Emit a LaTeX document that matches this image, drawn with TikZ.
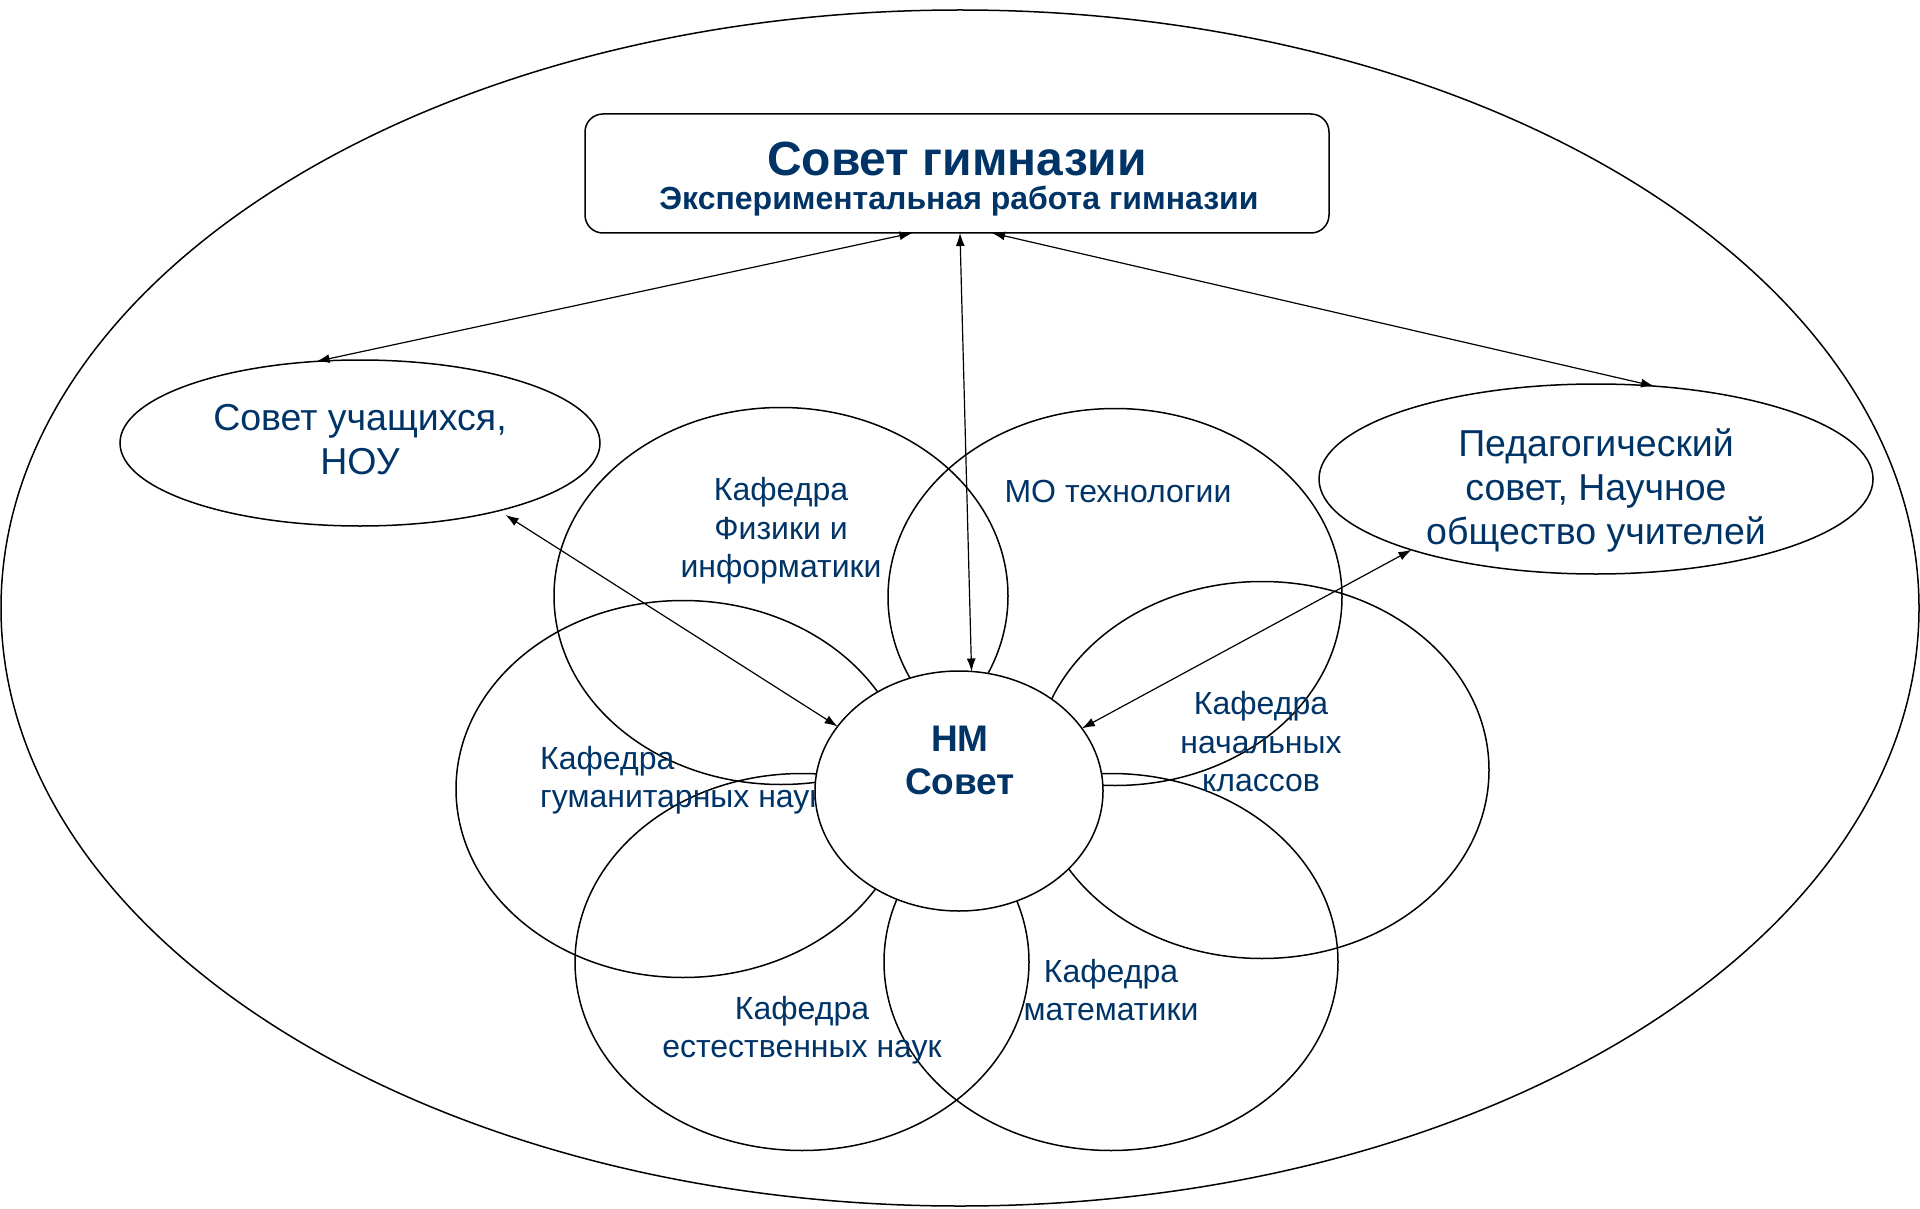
\documentclass[tikz,border=0pt]{standalone}
\usepackage{fontspec}
\setmainfont{Liberation Sans}
\usetikzlibrary{arrows.meta,calc,shapes.geometric}
\definecolor{navy}{RGB}{0,51,102}
\begin{document}
\begin{tikzpicture}[x=1pt,y=-1pt,
  line/.style={draw=black,line width=1.5pt},
  oval/.style={line,ellipse,inner sep=0pt,outer sep=0pt},
  petal/.style={oval,minimum width=454pt,minimum height=377pt},
  lbl/.style={text=navy,align=center,inner sep=0pt,font=\fontsize{32}{38.5}\selectfont},
  biglbl/.style={text=navy,align=center,inner sep=0pt,font=\fontsize{37.5}{44}\selectfont},
  link/.style={line width=1.2pt,{Latex[length=13pt,width=9pt]}-{Latex[length=13pt,width=9pt]}}
]
\useasboundingbox (0,0) rectangle (1920,1209);
% outer ellipse
\node[oval,minimum width=1918pt,minimum height=1196pt] (outer) at (960,608) {};
% top box
\node[line,rectangle,rounded corners=18pt,minimum width=744pt,minimum height=119pt,inner sep=0pt,outer sep=0pt] (top) at (957,173.5) {};
\node[text=navy,anchor=base,inner sep=0pt,font=\fontsize{48}{58}\selectfont\bfseries] (title) at (957,176) {Совет гимназии};
\node[text=navy,anchor=base,inner sep=0pt,font=\fontsize{32}{38}\selectfont\bfseries] (sub) at (959,209.5) {Экспериментальная работа гимназии};
% side ellipses
\node[oval,minimum width=480pt,minimum height=166pt] (sl) at (360,443) {};
\node[biglbl] (slt) at (360,440) {Совет учащихся,\\НОУ};
\node[oval,minimum width=554pt,minimum height=190pt] (pr) at (1596,479) {};
\node[biglbl] (prt) at (1596,490) {Педагогический\\совет, Научное\\общество учителей};
% petals
\node[petal] (p1) at (781,596) {};
\node[petal] (p2) at (1115,597) {};
\node[petal] (p3) at (1262,770) {};
\node[petal] (p4) at (1111,962) {};
\node[petal] (p5) at (802,962) {};
\node[petal] (p6) at (683,789) {};
% petal texts
\node[lbl] (t1) at (781,531) {Кафедра\\Физики и\\информатики};
\node[lbl] (t2) at (1118,491) {МО технологии};
\node[lbl] (t3) at (1261,742) {Кафедра\\начальных\\классов};
\node[lbl] (t4) at (1111,990) {Кафедра\\математики};
\node[lbl] (t5) at (802,1030) {Кафедра\\естественных наук};
\node[lbl,align=left,anchor=west] (t6) at (540,780) {Кафедра\\гуманитарных наук};
% centre
\node[oval,fill=white,minimum width=288pt,minimum height=240pt] (nm) at (959,791) {};
\node[text=navy,align=center,inner sep=0pt,font=\fontsize{37}{43}\selectfont\bfseries] (nmt) at (960,760) {НМ\\Совет};
% connectors
\draw[link] (sl.118.5) -- ($(top.south west)!0.44!(top.south east)$);
\draw[link] (nm.84.7) -- ($(top.south west)!0.504!(top.south east)$);
\draw[link] (pr.58.5) -- ($(top.south west)!0.547!(top.south east)$);
\draw[link,shorten <=8pt] (sl.-26) -- (nm.152.1);
\draw[link] (pr.-159.3) -- (nm.27.5);
\end{tikzpicture}
\end{document}
